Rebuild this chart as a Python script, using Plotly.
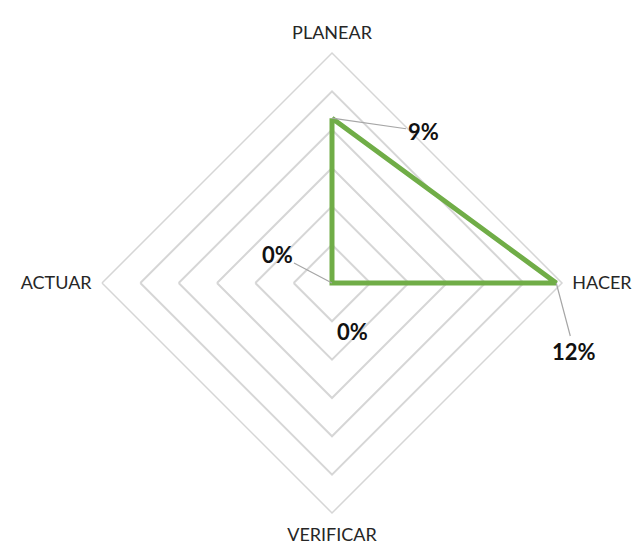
import plotly.graph_objects as go

categories = ["PLANEAR", "HACER", "VERIFICAR", "ACTUAR"]
values = [0.086, 0.117, 0.0, 0.0]
labels = ["9%", "12%", "0%", "0%"]

r_max = 0.12
green = "#70AD47"
grid = "#D6D6D6"
label_font = dict(size=22, color="#111111", family="Lato")

fig = go.Figure()
fig.add_trace(go.Scatterpolar(
    r=values + [values[0]],
    theta=categories + [categories[0]],
    mode="lines",
    line=dict(color=green, width=5),
    hoverinfo="skip",
    showlegend=False,
))

# data labels: offset of text from the point, in pixels; leader line or not
offsets = {"PLANEAR": (91, 13), "HACER": (18, 68), "VERIFICAR": (20, 48), "ACTUAR": (-55, -29)}
leader = {"PLANEAR": True, "HACER": True, "VERIFICAR": False, "ACTUAR": True}
dirs = {"PLANEAR": (0, 1), "HACER": (1, 0), "VERIFICAR": (0, -1), "ACTUAR": (-1, 0)}
for cat, v, lab in zip(categories, values, labels):
    dx, dy = dirs[cat]
    x = 0.5 + 0.5 * dx * v / r_max
    y = 0.5 + 0.5 * dy * v / r_max
    ax, ay = offsets[cat]
    if leader[cat]:
        fig.add_annotation(
            x=x, y=y, xref="paper", yref="paper",
            ax=ax, ay=ay, text=f"<b>{lab}</b>",
            showarrow=True, arrowhead=0, arrowwidth=1.2, arrowcolor="#A6A6A6",
            font=label_font,
        )
    else:
        fig.add_annotation(
            x=x, y=y, xref="paper", yref="paper",
            xshift=ax, yshift=-ay, text=f"<b>{lab}</b>", showarrow=False,
            font=label_font,
        )

fig.update_layout(
    width=640, height=559,
    margin=dict(l=94, r=86, t=45, b=54),
    paper_bgcolor="white",
    font=dict(family="Lato", size=18, color="#262626"),
    polar=dict(
        bgcolor="white",
        gridshape="linear",
        radialaxis=dict(
            range=[0, r_max], dtick=0.02, showticklabels=False, ticks="",
            showline=False, gridcolor=grid, gridwidth=1.5,
        ),
        angularaxis=dict(
            direction="clockwise", rotation=90, showgrid=False,
            showline=True, linecolor=grid, linewidth=1.5,
            ticks="outside", ticklen=6, tickcolor="rgba(0,0,0,0)",
            tickfont=dict(size=18, color="#262626", family="Lato"),
        ),
    ),
)

fig.write_html("out.html")
